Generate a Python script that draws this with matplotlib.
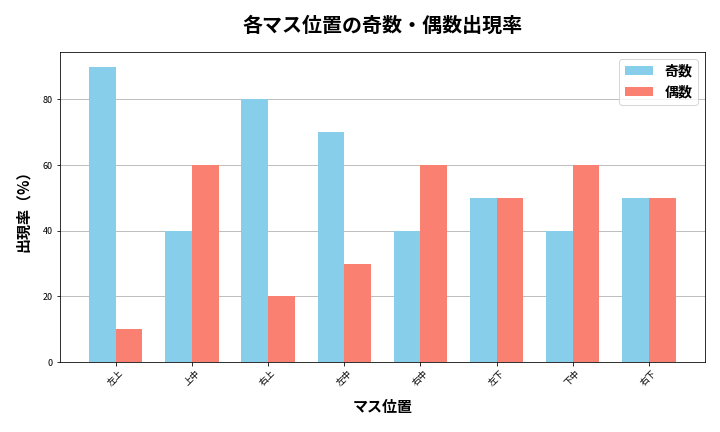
import numpy as np
import matplotlib
matplotlib.use("Agg")
import matplotlib.pyplot as plt

plt.rcParams["font.family"] = ["Noto Sans CJK JP", "DejaVu Sans"]

positions = ["左上", "上中", "右上", "左中", "右中", "左下", "下中", "右下"]
odd_rates = [90, 40, 80, 70, 40, 50, 40, 50]
even_rates = [10, 60, 20, 30, 60, 50, 60, 50]


def main():
    fig, ax = plt.subplots(figsize=(10, 6), dpi=72)

    x = np.arange(len(positions))
    width = 0.35

    ax.bar(x - width / 2, odd_rates, width, label="奇数", color="skyblue")
    ax.bar(x + width / 2, even_rates, width, label="偶数", color="salmon")

    ax.set_title("各マス位置の奇数・偶数出現率", fontsize=20, fontweight="bold", pad=20)
    ax.set_xlabel("マス位置", fontsize=15, fontweight="bold", labelpad=11)
    ax.set_ylabel("出現率（%）", fontsize=15, fontweight="bold", labelpad=12)
    ax.set_xticks(x)
    ax.set_xticklabels(positions, rotation=45, fontsize=9)
    ax.tick_params(axis="y", labelsize=9)
    ax.grid(axis="y", color="#b0b0b0", linewidth=0.8)
    ax.set_axisbelow(True)
    ax.legend(prop={"size": 14, "weight": "bold"})

    fig.subplots_adjust(left=0.083, right=0.979, top=0.880, bottom=0.162)
    plt.savefig("out.png")


main()
